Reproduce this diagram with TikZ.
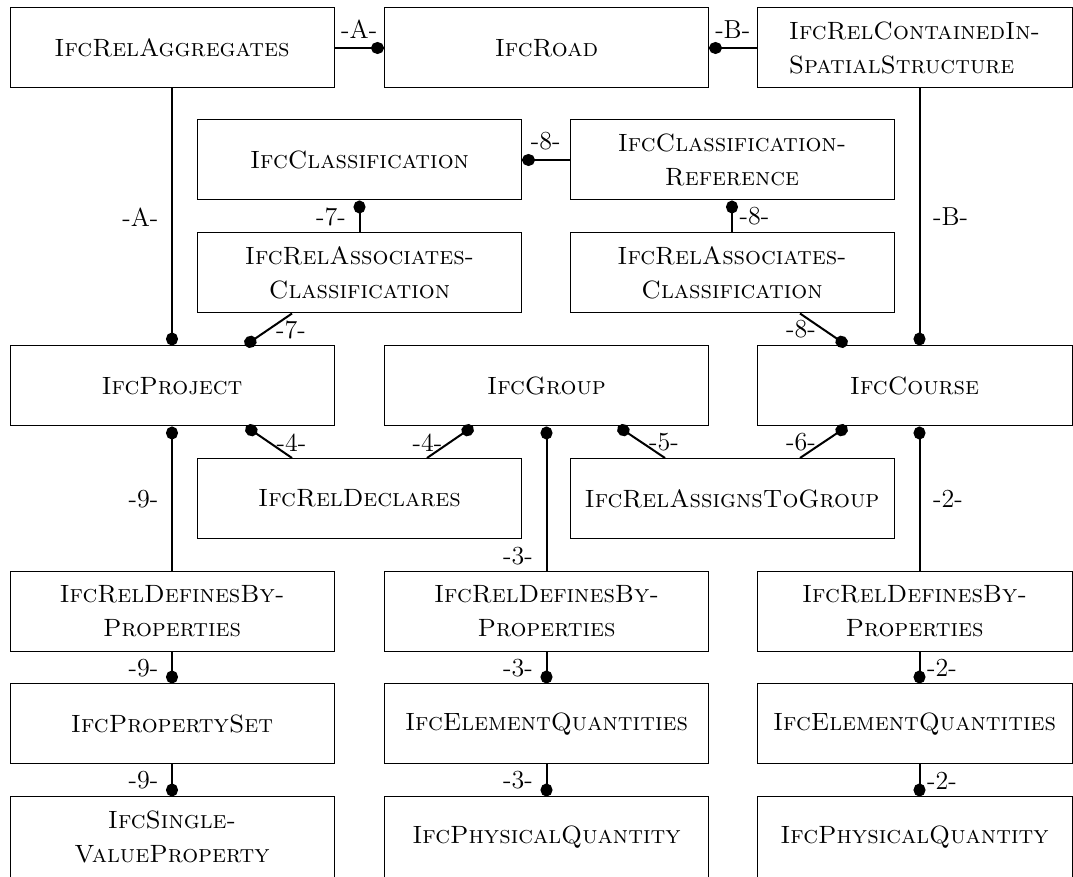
\documentclass[tikz,border=0pt]{standalone}
\usepackage{tikz}
\usetikzlibrary{positioning,calc,arrows.meta}
\tikzset{>=stealth}
\tikzset{
  entity/.style={draw,line width=0.5pt,minimum width=162pt,minimum height=40pt,
    inner sep=2pt,align=center,font=\fontsize{12.5}{17}\selectfont\scshape},
  narrow/.style={minimum width=157.5pt},
  rel/.style={line width=1pt,-{Circle[length=6.5pt,width=6pt]}},
  tag/.style={font=\fontsize{13}{15}\selectfont}
}
\begin{document}
\begin{tikzpicture}[x=0.5pt,y=-0.5pt]
\useasboundingbox (0,0) rectangle (1073,877);

% Top row
\node[entity] (aggr) at (172,48) {IfcRelAggregates};
\node[entity] (road) at (546.5,48) {IfcRoad};
\node[entity,narrow,align=left] (contain) at (914.5,48) {IfcRelContainedIn-\\SpatialStructure};

% Classification boxes
\node[entity] (classif) at (359.5,160) {IfcClassification};
\node[entity] (classref) at (732,160) {IfcClassification-\\Reference};
\node[entity] (assocL) at (359.5,273) {IfcRelAssociates-\\Classification};
\node[entity] (assocR) at (732,273) {IfcRelAssociates-\\Classification};

% Project, group and course
\node[entity] (project) at (172,386) {IfcProject};
\node[entity] (group) at (546.5,386) {IfcGroup};
\node[entity,narrow] (course) at (914.5,386) {IfcCourse};
\node[entity] (declares) at (359.5,498.5) {IfcRelDeclares};
\node[entity] (assigns) at (732,498.5) {IfcRelAssignsToGroup};

% Property and quantity columns
\node[entity] (defsL) at (172,611.5) {IfcRelDefinesBy-\\Properties};
\node[entity] (defsM) at (546.5,611.5) {IfcRelDefinesBy-\\Properties};
\node[entity,narrow] (defsR) at (914.5,611.5) {IfcRelDefinesBy-\\Properties};
\node[entity] (pset) at (172,724) {IfcPropertySet};
\node[entity] (qtoM) at (546.5,724) {IfcElementQuantities};
\node[entity,narrow] (qtoR) at (914.5,724) {IfcElementQuantities};
\node[entity] (single) at (172,837) {IfcSingle-\\ValueProperty};
\node[entity] (physM) at (546.5,837) {IfcPhysicalQuantity};
\node[entity,narrow] (physR) at (914.5,837) {IfcPhysicalQuantity};

% Aggregation and containment
\draw[rel] (aggr.east) -- node[tag,above=1pt] {-A-} (road.west);
\draw[rel] (contain.west) -- node[tag,above=1pt] {-B-} (road.east);
\draw[rel] (aggr.south) -- node[tag,left=3pt] {-A-} (project.north);
\draw[rel] ($(contain.south)+(5,0)$) -- node[tag,right=3pt] {-B-} ($(course.north)+(5,0)$);

% Classification links
\draw[rel] (classref.west) -- node[tag,above=1pt] {-8-} (classif.east);
\draw[rel] (assocL.north) -- node[tag,left=3pt] {-7-} (classif.south);
\draw[rel] (assocR.north) -- node[tag,right] {-8-} (classref.south);
\draw[rel] ($(assocL.south)+(-67.5,0)$) -- node[tag,right] {-7-} ($(project.north)+(73,0)$);
\draw[rel] ($(assocR.south)+(68,0)$) -- node[tag,left] {-8-} ($(course.north)+(-67.5,0)$);

% Declares and assigns
\draw[rel] ($(declares.north)+(-67.5,0)$) -- node[tag,right] {-4-} ($(project.south)+(74,0)$);
\draw[rel] ($(declares.north)+(67.5,0)$) -- node[tag,left] {-4-} ($(group.south)+(-73.5,0)$);
\draw[rel] ($(assigns.north)+(-67,0)$) -- node[tag,right] {-5-} ($(group.south)+(71.5,0)$);
\draw[rel] ($(assigns.north)+(68,0)$) -- node[tag,left] {-6-} ($(course.south)+(-67.5,0)$);

% Property definitions
\draw[rel] (defsL.north) -- node[tag,left=3pt] {-9-} (project.south);
\draw[rel] (defsM.north) -- node[tag,left=3pt,pos=0.1] {-3-} (group.south);
\draw[rel] ($(defsR.north)+(5,0)$) -- node[tag,right=3pt] {-2-} ($(course.south)+(5,0)$);
\foreach \a/\b/\t in {defsL/pset/9,pset/single/9,defsM/qtoM/3,qtoM/physM/3}
  \draw[rel] (\a.south) -- node[tag,left=3pt] {-\t-} (\b.north);
\foreach \a/\b in {defsR/qtoR,qtoR/physR}
  \draw[rel] ($(\a.south)+(5,0)$) -- node[tag,right=0pt] {-2-} ($(\b.north)+(5,0)$);
\end{tikzpicture}
\end{document}
